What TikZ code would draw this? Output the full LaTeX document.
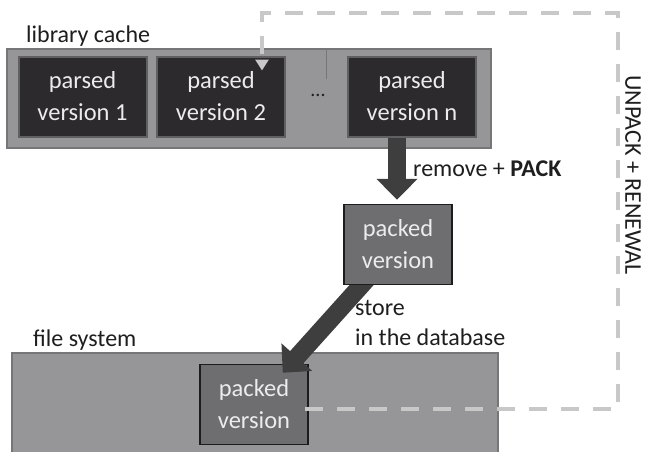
\documentclass[tikz,border=0pt]{standalone}
\usepackage{fontspec}
\setmainfont{Carlito}
\usetikzlibrary{arrows.meta,calc}
\pgfdeclarelayer{front}
\pgfsetlayers{main,front}
\definecolor{areafill}{RGB}{150,150,152}
\definecolor{areaedge}{RGB}{118,118,120}
\definecolor{parsedfill}{RGB}{44,42,44}
\definecolor{parsededge}{RGB}{96,96,98}
\definecolor{packfill}{RGB}{110,110,112}
\definecolor{packedge}{RGB}{28,28,28}
\definecolor{boxtext}{RGB}{236,236,236}
\definecolor{labeltext}{RGB}{30,30,30}
\definecolor{blockarrow}{RGB}{62,62,62}
\definecolor{cycleline}{RGB}{200,200,200}
\tikzset{
  area/.style={draw=areaedge, fill=areafill, line width=2pt, inner sep=0pt},
  parsedbox/.style={draw=parsededge, fill=parsedfill, line width=2pt,
    minimum width=128pt, minimum height=80pt, inner sep=0pt,
    text=boxtext, align=center, font=\fontsize{24.5}{32}\selectfont},
  packbox/.style={draw=packedge, fill=packfill, line width=1.5pt,
    minimum width=108pt, minimum height=80pt, inner sep=0pt,
    text=boxtext, align=center, font=\fontsize{24.5}{32}\selectfont},
  lbl/.style={text=labeltext, inner sep=0pt, font=\fontsize{24}{30}\selectfont},
  blockarr/.style={draw=blockarrow, line width=18pt,
    -{Triangle[width=40pt,length=21pt]}},
  cycle path/.style={draw=cycleline, line width=4pt, dash pattern=on 18pt off 14pt,
    -{Triangle[width=13pt,length=11pt]}}
}
\begin{document}
\begin{tikzpicture}[x=1pt,y=-1pt]
\useasboundingbox (0,0) rectangle (645,451);

% library cache area with the parsed versions
\node[lbl, anchor=base west] (cachelbl) at (26,42) {library cache};
\node[area, minimum width=484pt, minimum height=99pt] (cache) at (248.5,98) {};
\draw[areaedge, line width=0.7pt] (326,49) -- (326,79);
\node[parsedbox] (pv1) at (82.5,96.5) {parsed\\version 1};
\node[parsedbox] (pv2) at (221,96.5) {parsed\\version 2};
\node[text=labeltext, inner sep=0pt, font=\fontsize{20}{20}\selectfont] (dots) at (318,95) {...};
\node[parsedbox] (pvn) at (412,96.5) {parsed\\version n};

% file system area
\node[lbl, anchor=base west] (fslbl) at (33,346) {file system};
\node[area, minimum width=486pt, minimum height=110pt] (fs) at (255,408) {};
\node[packbox] (pb) at (254,404.5) {packed\\version};

% packed version between cache and file system
\begin{pgfonlayer}{front}
\node[packbox] (pk) at (398,244.5) {packed\\version};
\end{pgfonlayer}

% remove + PACK
\draw[blockarr] ($(pvn.south)+(-15,0)$) -- ($(pk.north)+(-1,-4)$);
\node[lbl, anchor=base west] (packlbl) at (413,176) {remove + \textbf{PACK}};

% store in the database
\draw[blockarr] (pk.center) -- ($(pb.north east)+(-26,9)$);
\node[lbl, anchor=base west, align=left] (storelbl) at (355,345) {store\\in the database};

% unpack + renewal cycle
\coordinate (c1) at ($(pb.east)+(-4,4.5)$);
\coordinate (c2) at (618,409);
\coordinate (c3) at (618,13);
\coordinate (c4) at (262,13);
\coordinate (c5) at ($(pv2.north east)+(-24,15)$);
\draw[cycle path] (c1) -- (c2) -- (c3) -- (c4) -- (c5);
\node[lbl, rotate=-90] (unpacklbl) at (633,175) {UNPACK + RENEWAL};
\end{tikzpicture}
\end{document}
